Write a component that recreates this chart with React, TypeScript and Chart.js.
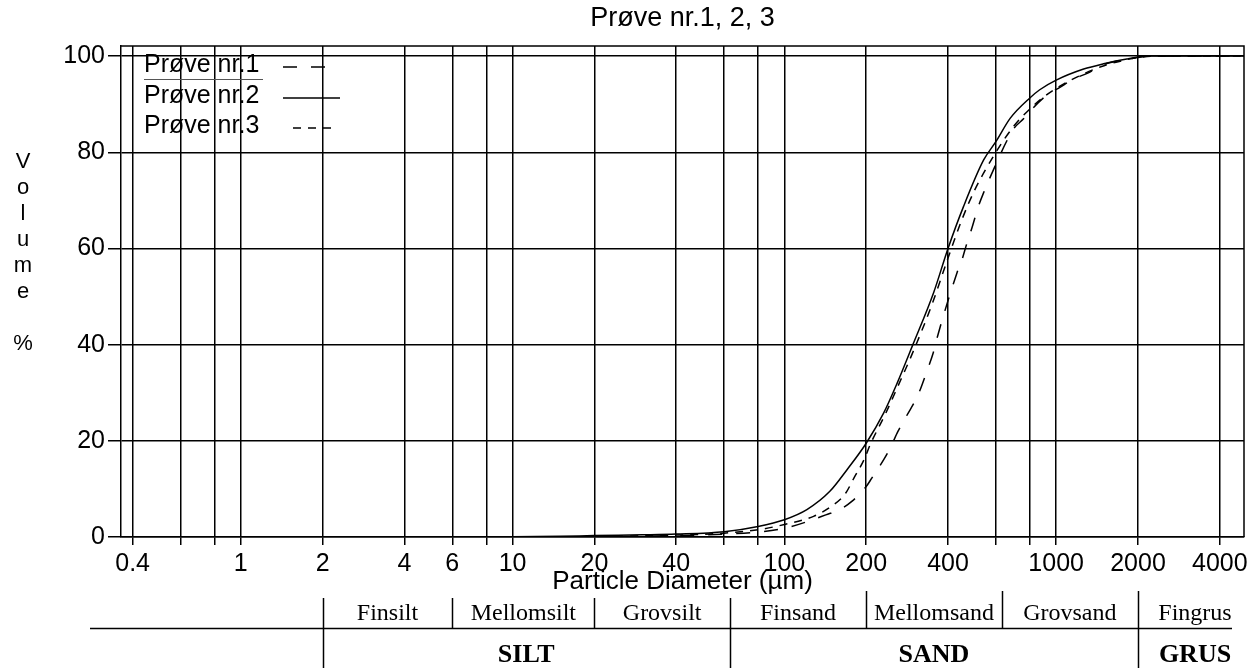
import React, { useEffect, useRef } from "react";
import { Chart, registerables } from "chart.js";

Chart.register(...registerables);

const SANS = "'Liberation Sans', Arial, Helvetica, sans-serif";
const SERIF = "'Liberation Serif', 'Times New Roman', serif";

// ---- data (particle diameter in µm, cumulative volume %) ----
const sizes1 = [0.36, 10, 20, 40, 60, 80, 100, 123, 142, 160, 177, 200, 210, 232, 245, 262, 281, 310, 336, 353, 365, 432, 450, 470, 490, 517, 540, 600, 660, 700, 760, 800, 925, 1018, 1175, 1300, 1490, 1670, 2000, 2200, 4910];
const values1 = [0, 0, 0.05, 0.3, 0.6, 1.0, 1.8, 3.3, 4.6, 5.7, 7.4, 10.5, 12.3, 16.1, 18.5, 22.0, 25.1, 29.5, 34.8, 38.3, 41.5, 55.0, 57.6, 61.2, 64.3, 68.7, 71.5, 77.5, 82.5, 85.0, 87.0, 88.5, 91.9, 93.3, 95.4, 96.4, 98.2, 99.0, 99.7, 100, 100];

const sizes2 = [0.36, 1, 2, 4, 6, 10, 15, 20, 30, 40, 60, 80, 100, 121, 147, 170, 200, 232, 260, 297, 354, 400, 456, 541, 600, 678, 800, 870, 1000, 1262, 1494, 1820, 2000, 2200, 4910];
const values2 = [0, 0, 0, 0, 0, 0.05, 0.15, 0.3, 0.45, 0.6, 1.1, 2.2, 3.6, 5.7, 9.5, 14.0, 19.5, 25.8, 32.0, 40.0, 50.8, 60.0, 68.7, 78.4, 82.2, 87.1, 91.3, 93.0, 95.0, 97.3, 98.4, 99.4, 99.8, 100, 100];

const sizes3 = [0.36, 10, 20, 40, 60, 80, 100, 128, 150, 168, 180, 196, 208, 235, 260, 300, 350, 400, 450, 500, 600, 700, 800, 900, 1000, 1250, 1500, 1800, 2000, 2300, 4910];
const values3 = [0, 0, 0.1, 0.4, 0.8, 1.5, 2.6, 4.3, 6.5, 9.1, 12.2, 16.0, 19.5, 25.5, 31.0, 39.0, 48.5, 58.0, 66.0, 72.0, 80.0, 85.5, 89.0, 91.5, 93.3, 96.2, 98.0, 99.2, 99.7, 100, 100];

const seriesLabels = ["Prøve nr.1", "Prøve nr.2", "Prøve nr.3"];
const titleText = "Prøve nr.1, 2, 3";
const xTitle = "Particle Diameter (µm)";
const yTitleChars = ["V", "o", "l", "u", "m", "e", "", "%"];

const xGridTicks = [0.4, 0.6, 0.8, 1, 2, 4, 6, 8, 10, 20, 40, 60, 80, 100, 200, 400, 600, 800, 1000, 2000, 4000];
const xLabelTicks = [0.4, 1, 2, 4, 6, 10, 20, 40, 100, 200, 400, 1000, 2000, 4000];
const yTicks = [0, 20, 40, 60, 80, 100];

const fractionEdges = [2, 6, 20, 63, 200, 630, 2000, 6300];
const fractionNames = ["Finsilt", "Mellomsilt", "Grovsilt", "Finsand", "Mellomsand", "Grovsand", "Fingrus"];
const mainEdges = [2, 63, 2000, 6300];
const mainNames = ["SILT", "SAND", "GRUS"];

const X_MIN = 0.3624;
const X_MAX = 4910;
const Y_MAX = 102.1;

const toPoints = (xs: number[], ys: number[]) => xs.map((x, i) => ({ x, y: ys[i] }));

const decorPlugin = {
  id: "decor",
  afterDraw(chart: any) {
    const { ctx, chartArea: a, scales } = chart;
    const xs = scales.x;
    const W = chart.width;
    const H = chart.height;
    ctx.save();
    ctx.fillStyle = "#000";
    ctx.strokeStyle = "#000";

    // frame top + right
    ctx.lineWidth = 1.5;
    ctx.setLineDash([]);
    ctx.beginPath();
    ctx.moveTo(a.left, a.top);
    ctx.lineTo(a.right, a.top);
    ctx.lineTo(a.right, a.bottom);
    ctx.stroke();

    // title
    ctx.font = `27px ${SANS}`;
    ctx.textAlign = "center";
    ctx.textBaseline = "alphabetic";
    ctx.fillText(titleText, (a.left + a.right) / 2, 26);

    // y title, stacked letters
    ctx.font = `22px ${SANS}`;
    yTitleChars.forEach((c, i) => {
      if (c) ctx.fillText(c, 23, 168 + i * 26);
    });

    // legend (inside plot)
    ctx.textAlign = "left";
    ctx.font = `25px ${SANS}`;
    const ds = chart.data.datasets;
    const rows = [
      { y: 72, x0: 283, x1: 332 },
      { y: 103, x0: 283, x1: 340 },
      { y: 133, x0: 293, x1: 332 },
    ];
    ds.forEach((d: any, i: number) => {
      const r = rows[i];
      ctx.fillText(d.label, 144, r.y);
      ctx.lineWidth = 1.5;
      ctx.setLineDash(d.borderDash || []);
      ctx.beginPath();
      ctx.moveTo(r.x0, r.y - 5);
      ctx.lineTo(r.x1, r.y - 5);
      ctx.stroke();
    });
    ctx.setLineDash([]);
    ctx.lineWidth = 1;
    ctx.strokeStyle = "#555";
    ctx.beginPath();
    ctx.moveTo(144, 79.5);
    ctx.lineTo(263, 79.5);
    ctx.stroke();
    ctx.strokeStyle = "#000";

    // x title
    ctx.textAlign = "center";
    ctx.font = `26px ${SANS}`;
    ctx.fillText(xTitle, (a.left + a.right) / 2, 589);

    // classification table
    const px = (v: number) => Math.min(xs.getPixelForValue(v), W);
    ctx.lineWidth = 1.5;
    ctx.beginPath();
    ctx.moveTo(90, 628.5);
    ctx.lineTo(1232, 628.5);
    ctx.stroke();

    fractionEdges.slice(0, -1).forEach((e) => {
      const x = Math.round(px(e)) + 0.5;
      const isMain = mainEdges.includes(e);
      const top = e >= 200 ? 591 : 598;
      ctx.beginPath();
      ctx.moveTo(x, top);
      ctx.lineTo(x, isMain ? H : 628.5);
      ctx.stroke();
    });

    ctx.font = `24px ${SERIF}`;
    fractionNames.forEach((n, i) => {
      const c = (px(fractionEdges[i]) + px(fractionEdges[i + 1])) / 2;
      ctx.fillText(n, c, 620);
    });
    ctx.font = `bold 26px ${SERIF}`;
    mainNames.forEach((n, i) => {
      const c = (px(mainEdges[i]) + px(mainEdges[i + 1])) / 2;
      ctx.fillText(n, c, 662);
    });
    ctx.restore();
  },
};

export default function App() {
  const ref = useRef<HTMLCanvasElement>(null);

  useEffect(() => {
    const canvas = ref.current;
    if (!canvas) return;
    const lineBase = {
      borderColor: "#000",
      backgroundColor: "#000",
      borderWidth: 1.5,
      pointRadius: 0,
      pointHoverRadius: 0,
      fill: false,
      cubicInterpolationMode: "monotone" as const,
    };
    const chart = new Chart(canvas, {
      type: "line",
      data: {
        datasets: [
          { ...lineBase, label: seriesLabels[0], data: toPoints(sizes1, values1), borderDash: [14, 14] },
          { ...lineBase, label: seriesLabels[1], data: toPoints(sizes2, values2), borderDash: [] },
          { ...lineBase, label: seriesLabels[2], data: toPoints(sizes3, values3), borderDash: [8, 7] },
        ],
      },
      options: {
        animation: false,
        responsive: false,
        maintainAspectRatio: false,
        events: [],
        layout: { padding: { top: 46, right: 8, left: 0, bottom: 0 } },
        plugins: {
          legend: { display: false },
          title: { display: false },
          tooltip: { enabled: false },
        },
        scales: {
          x: {
            type: "logarithmic",
            min: X_MIN,
            max: X_MAX,
            afterBuildTicks: (s: any) => {
              s.ticks = xGridTicks.map((v) => ({ value: v }));
            },
            afterFit: (s: any) => {
              s.height = 668 - 537;
              s.paddingLeft = 0;
              s.paddingRight = 0;
            },
            ticks: {
              autoSkip: false,
              maxRotation: 0,
              minRotation: 0,
              color: "#000",
              padding: 4,
              font: { size: 25, family: SANS },
              callback: (v: any) => (xLabelTicks.includes(Number(v)) ? String(v) : ""),
            },
            grid: { color: "#000", lineWidth: 1.5, tickLength: 8, drawTicks: true },
            border: { display: true, color: "#000", width: 1.5 },
          },
          y: {
            type: "linear",
            min: 0,
            max: Y_MAX,
            afterBuildTicks: (s: any) => {
              s.ticks = yTicks.map((v) => ({ value: v }));
            },
            afterFit: (s: any) => {
              s.width = 121;
              s.paddingTop = 0;
              s.paddingBottom = 0;
            },
            ticks: { color: "#000", padding: 3, font: { size: 25, family: SANS } },
            grid: { color: "#000", lineWidth: 1.5, tickLength: 13 },
            border: { display: true, color: "#000", width: 1.5 },
          },
        },
      },
      plugins: [decorPlugin],
    });
    return () => chart.destroy();
  }, []);

  return (
    <div style={{ position: "absolute", left: 0, top: 0, width: 1252, height: 668, background: "#fff" }}>
      <canvas ref={ref} width={1252} height={668} style={{ display: "block", width: 1252, height: 668 }} />
    </div>
  );
}
